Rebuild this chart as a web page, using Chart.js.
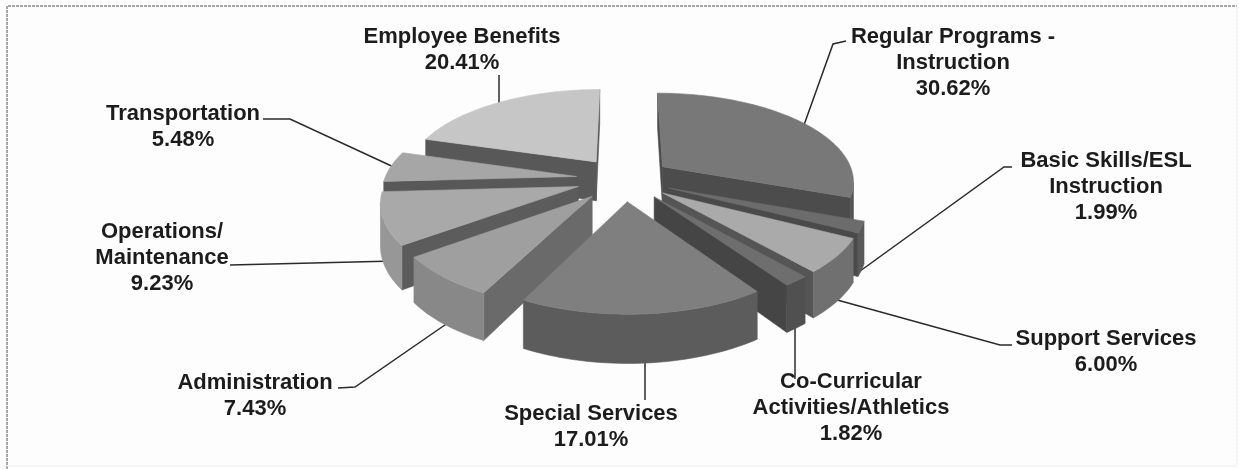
<!DOCTYPE html>
<html>
<head>
<meta charset="utf-8">
<style>
html,body{margin:0;padding:0;background:#fdfdfd;}
#wrap{position:absolute;left:0;top:0;width:1239px;height:469px;}
</style>
<script src="https://cdn.jsdelivr.net/npm/chart.js@4/dist/chart.umd.min.js"></script>
</head>
<body>
<div id="wrap"><canvas id="budget"></canvas></div>
<script>
// Budget shares by program, clockwise from twelve o'clock.
const categories = [
  ['Regular Programs -', 'Instruction'],
  ['Basic Skills/ESL', 'Instruction'],
  ['Support Services'],
  ['Co-Curricular', 'Activities/Athletics'],
  ['Special Services'],
  ['Administration'],
  ['Operations/', 'Maintenance'],
  ['Transportation'],
  ['Employee Benefits']
];
const shares = [30.62, 1.99, 6.00, 1.82, 17.01, 7.43, 9.23, 5.48, 20.41];

// Shades of each slice: upper face, rim, radial cut faces.
const topShades = ['#787878', '#6c6c6c', '#aaaaaa', '#6e6e6e', '#7f7f7f', '#9f9f9f', '#a9a9a9', '#a6a6a6', '#c6c6c6'];
const rimShades = ['#555555', '#5a5a5a', '#707070', '#505050', '#5c5c5c', '#888888', '#979797', '#8a8a8a', '#888888'];
const cutShades = ['#4c4c4c', '#4a4a4a', '#555555', '#454545', '#505050', '#6a6a6a', '#5c5c5c', '#585858', '#585858'];

// Where each caption sits and the leader that ties it to its slice.
const captionAnchors = [
  [953, 37], [1106, 161], [1106, 339], [851, 382], [591, 414], [255, 383], [162, 232], [183, 114], [462, 37]
];
const leaders = [
  [[846, 41], [833, 44], [804, 125]],
  [[1012, 167], [1004, 167], [856, 274]],
  [[1012, 345], [1000, 345], [830, 298]],
  [[795, 379], [795, 325]],
  [[645, 400], [645, 355]],
  [[338, 388], [355, 387], [455, 318]],
  [[230, 265], [395, 261]],
  [[263, 119], [290, 119], [398, 169]],
  [[499, 75], [499, 105]]
];

// Viewing set-up for the tilted pie.
const view = { cx: 624, cy: 179, rx: 192, ry: 88, tilt: 0.15, depth: 40 };

function project(x, y, z) {
  const p = 1 / (1 - view.tilt * y);
  return [view.cx + x * view.rx * p, view.cy + (y * view.ry + z) * p];
}

function outline(ctx, pts, fill) {
  ctx.beginPath();
  pts.forEach((q, i) => i ? ctx.lineTo(q[0], q[1]) : ctx.moveTo(q[0], q[1]));
  ctx.closePath();
  ctx.fillStyle = fill;
  ctx.strokeStyle = fill;
  ctx.lineWidth = 0.6;
  ctx.fill();
  ctx.stroke();
}

// Faces wound along the slice contour show only when they turn toward the viewer.
function facesViewer(pts) {
  let sum = 0;
  pts.forEach((q, i) => {
    const n = pts[(i + 1) % pts.length];
    sum += q[0] * n[1] - n[0] * q[1];
  });
  return sum < 0;
}

function drawSlice(ctx, arc, idx) {
  const R = arc.outerRadius;
  const a0 = arc.startAngle, a1 = arc.endAngle, mid = (a0 + a1) / 2;
  const off = arc.options.offset / R;
  const ox = Math.cos(mid) * off, oy = Math.sin(mid) * off;
  const steps = Math.max(6, Math.ceil((a1 - a0) * 40));
  const rimAngles = [];
  for (let i = 0; i <= steps; i++) rimAngles.push(a0 + (a1 - a0) * i / steps);
  const at = (a, z) => project(ox + Math.cos(a), oy + Math.sin(a), z);
  const apex = z => project(ox, oy, z);
  const h = view.depth;

  const startCut = [apex(0), at(a0, 0), at(a0, h), apex(h)];
  const endCut = [at(a1, 0), apex(0), apex(h), at(a1, h)];
  if (facesViewer(startCut)) outline(ctx, startCut, cutShades[idx]);
  if (facesViewer(endCut)) outline(ctx, endCut, cutShades[idx]);

  // The visible stretch of the rim is filled as one band so no seams show.
  let run = [];
  const flush = () => {
    if (run.length > 1) {
      outline(ctx, run.map(a => at(a, 0)).concat(run.slice().reverse().map(a => at(a, h))), rimShades[idx]);
    }
    run = [];
  };
  for (let i = 0; i < steps; i++) {
    const quad = [at(rimAngles[i], 0), at(rimAngles[i + 1], 0), at(rimAngles[i + 1], h), at(rimAngles[i], h)];
    if (facesViewer(quad)) {
      if (!run.length) run.push(rimAngles[i]);
      run.push(rimAngles[i + 1]);
    } else {
      flush();
    }
  }
  flush();

  outline(ctx, [apex(0)].concat(rimAngles.map(a => at(a, 0))), topShades[idx]);
}

const pie3d = {
  id: 'pie3d',
  beforeDatasetDraw(chart) {
    const ctx = chart.ctx;
    const arcs = chart.getDatasetMeta(0).data;
    const order = arcs.map((arc, i) => i)
      .sort((p, q) => Math.sin((arcs[p].startAngle + arcs[p].endAngle) / 2) - Math.sin((arcs[q].startAngle + arcs[q].endAngle) / 2));
    ctx.save();
    // Leaders run underneath the slices they point at.
    ctx.strokeStyle = '#2a2a2a';
    ctx.lineWidth = 1.5;
    leaders.forEach(line => {
      ctx.beginPath();
      line.forEach((q, i) => i ? ctx.lineTo(q[0], q[1]) : ctx.moveTo(q[0], q[1]));
      ctx.stroke();
    });
    order.forEach(i => drawSlice(ctx, arcs[i], i));
    ctx.restore();
    return false;
  },
  afterDatasetsDraw(chart) {
    const ctx = chart.ctx;
    ctx.save();
    // Captions
    ctx.fillStyle = '#1c1c1c';
    ctx.font = 'bold 22px "Liberation Sans", Arial, sans-serif';
    ctx.textAlign = 'center';
    ctx.textBaseline = 'middle';
    categories.forEach((lines, i) => {
      const [x, y] = captionAnchors[i];
      lines.concat(shares[i].toFixed(2) + '%').forEach((t, n) => ctx.fillText(t, x, y + n * 26));
    });
    // Frame: firm along the top and left, barely there along the other two sides
    ctx.setLineDash([3, 1]);
    ctx.strokeStyle = '#8a8a8a';
    ctx.lineWidth = 1.5;
    ctx.beginPath();
    ctx.moveTo(7, 469);
    ctx.lineTo(7, 6);
    ctx.lineTo(1237, 6);
    ctx.stroke();
    ctx.strokeStyle = '#eeeeee';
    ctx.lineWidth = 1;
    ctx.beginPath();
    ctx.moveTo(1237, 6);
    ctx.lineTo(1237, 466);
    ctx.lineTo(7, 466);
    ctx.stroke();
    ctx.restore();
  }
};

new Chart(document.getElementById('budget'), {
  type: 'pie',
  plugins: [pie3d],
  data: {
    labels: categories.map(c => c.join(' ')),
    datasets: [{ data: shares, offset: 52, borderWidth: 0, backgroundColor: topShades }]
  },
  options: {
    responsive: true,
    maintainAspectRatio: false,
    animation: false,
    events: [],
    plugins: { legend: { display: false }, tooltip: { enabled: false }, title: { display: false } }
  }
});
</script>
</body>
</html>
